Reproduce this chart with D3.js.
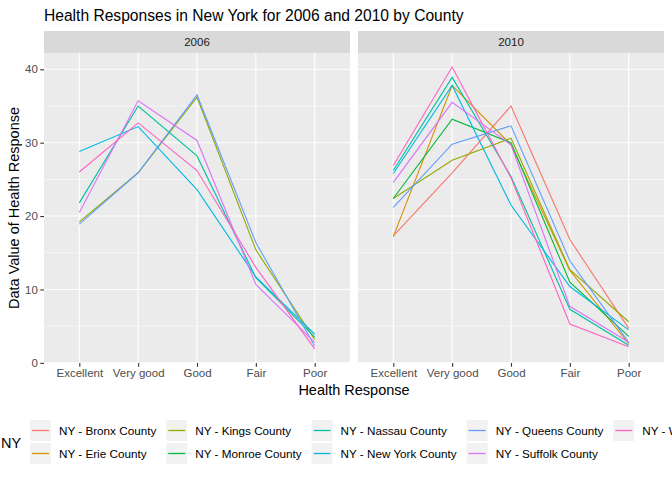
<!DOCTYPE html>
<html>
<head>
<meta charset="utf-8">
<script src="https://cdn.jsdelivr.net/npm/d3@7"></script>
<style>
  body { margin: 0; background: #fff; }
  svg { font-family: "Liberation Sans", Arial, Helvetica, sans-serif; }
</style>
</head>
<body>
<svg id="chart" width="672" height="480"></svg>
<script>
// health response categories on the x axis
var responses = ["Excellent", "Very good", "Good", "Fair", "Poor"];
var years = ["2006", "2010"];

var counties = ["NY - Bronx County", "NY - Erie County", "NY - Kings County", "NY - Monroe County",
  "NY - Nassau County", "NY - New York County", "NY - Queens County", "NY - Suffolk County",
  "NY - Westchester County"];
var colors = ["#F8766D", "#D39200", "#93AA00", "#00BA38", "#00C19F", "#00B9E3", "#619CFF", "#DB72FB", "#FF61C3"];

// 2006 - only six counties reported
var counties2006 = ["NY - Kings County", "NY - Nassau County", "NY - New York County",
  "NY - Queens County", "NY - Suffolk County", "NY - Westchester County"];
var values2006 = [
  [19.2, 25.9, 36.2, 15.4, 3.2],
  [21.8, 35.0, 28.2, 11.6, 3.5],
  [28.8, 32.2, 23.6, 11.7, 3.9],
  [18.9, 25.9, 36.5, 16.4, 2.3],
  [20.5, 35.7, 30.3, 10.7, 2.8],
  [26.0, 32.7, 26.2, 13.0, 1.9]
];

// 2010 - all nine counties
var counties2010 = counties;
var values2010 = [
  [17.3, 25.9, 35.0, 16.8, 4.7],
  [17.2, 37.8, 29.7, 12.6, 2.6],
  [22.4, 27.6, 30.6, 12.7, 5.6],
  [22.4, 33.2, 30.0, 11.0, 3.6],
  [26.2, 38.9, 25.4, 7.3, 2.4],
  [25.8, 37.8, 21.5, 10.4, 4.5],
  [21.2, 29.8, 32.3, 13.9, 2.8],
  [24.6, 35.5, 29.7, 7.7, 2.8],
  [26.9, 40.3, 25.2, 5.3, 2.2]
];

var yTicks = [0, 10, 20, 30, 40];
var yMinor = [5, 15, 25, 35];

var svg = d3.select("#chart");

var panelTop = 53, panelBottom = 363;
var stripH = 22;
var panels = [
  {year: "2006", x0: 44, x1: 350, names: counties2006, vals: values2006},
  {year: "2010", x0: 358, x1: 664, names: counties2010, vals: values2010}
];

var allVals = d3.merge(values2006.concat(values2010));
var ext = d3.extent(allVals);
var pad = (ext[1] - ext[0]) * 0.05;
var y = d3.scaleLinear().domain([ext[0] - pad, ext[1] + pad]).range([panelBottom, panelTop]);

var color = d3.scaleOrdinal().domain(counties).range(colors);

// title
svg.append("text")
  .attr("x", 44).attr("y", 21)
  .attr("font-size", "15.6px")
  .attr("fill", "#000")
  .text("Health Responses in New York for 2006 and 2010 by County");

panels.forEach(function(p, pi) {
  var x = d3.scalePoint().domain(responses).range([p.x0, p.x1]).padding(0.6);
  var g = svg.append("g");

  // strip
  g.append("rect")
    .attr("x", p.x0).attr("y", panelTop - stripH)
    .attr("width", p.x1 - p.x0).attr("height", stripH)
    .attr("fill", "#D9D9D9");
  g.append("text")
    .attr("x", (p.x0 + p.x1) / 2).attr("y", panelTop - stripH / 2 + 4)
    .attr("text-anchor", "middle")
    .attr("font-size", "11.5px")
    .attr("fill", "#1A1A1A")
    .text(p.year);

  // panel background
  g.append("rect")
    .attr("x", p.x0).attr("y", panelTop)
    .attr("width", p.x1 - p.x0).attr("height", panelBottom - panelTop)
    .attr("fill", "#EBEBEB");

  // grid
  g.selectAll(".minor")
    .data(yMinor)
    .enter()
    .append("line")
    .attr("x1", p.x0).attr("x2", p.x1)
    .attr("y1", function(d) { return y(d); })
    .attr("y2", function(d) { return y(d); })
    .attr("stroke", "#fff").attr("stroke-width", 0.55);
  g.selectAll(".major")
    .data(yTicks)
    .enter()
    .append("line")
    .attr("x1", p.x0).attr("x2", p.x1)
    .attr("y1", function(d) { return y(d); })
    .attr("y2", function(d) { return y(d); })
    .attr("stroke", "#fff").attr("stroke-width", 1.1);
  g.selectAll(".vgrid")
    .data(responses)
    .enter()
    .append("line")
    .attr("x1", function(d) { return x(d); })
    .attr("x2", function(d) { return x(d); })
    .attr("y1", panelTop).attr("y2", panelBottom)
    .attr("stroke", "#fff").attr("stroke-width", 1.1);

  // lines
  var line = d3.line()
    .x(function(d, i) { return x(responses[i]); })
    .y(function(d) { return y(d); });
  g.selectAll(".series")
    .data(p.vals)
    .enter()
    .append("path")
    .attr("d", function(d) { return line(d); })
    .attr("fill", "none")
    .attr("stroke", function(d, i) { return color(p.names[i]); })
    .attr("stroke-width", 1.1);

  // x axis
  var xAxis = g.append("g")
    .attr("transform", "translate(0," + panelBottom + ")")
    .call(d3.axisBottom(x).tickSize(3.7).tickPadding(2.5));
  xAxis.select(".domain").remove();
  xAxis.selectAll(".tick line").attr("stroke", "#333333").attr("stroke-width", 1.1);
  xAxis.selectAll(".tick text")
    .attr("fill", "#4D4D4D")
    .attr("font-size", "11.5px")
    .attr("font-family", "Liberation Sans, Arial, sans-serif");

  // y axis on first panel only
  if (pi == 0) {
    var yAxis = g.append("g")
      .attr("transform", "translate(" + p.x0 + ",0)")
      .call(d3.axisLeft(y).tickValues(yTicks).tickSize(3.7).tickPadding(2.5));
    yAxis.select(".domain").remove();
    yAxis.selectAll(".tick line").attr("stroke", "#333333").attr("stroke-width", 1.1);
    yAxis.selectAll(".tick text")
      .attr("fill", "#4D4D4D")
      .attr("font-size", "11.5px")
      .attr("font-family", "Liberation Sans, Arial, sans-serif");
  }
});

// axis titles
svg.append("text")
  .attr("x", (44 + 664) / 2).attr("y", 395)
  .attr("text-anchor", "middle")
  .attr("font-size", "14.5px")
  .text("Health Response");
svg.append("text")
  .attr("transform", "translate(19," + ((panelTop + panelBottom) / 2) + ") rotate(-90)")
  .attr("text-anchor", "middle")
  .attr("font-size", "14.5px")
  .text("Data Value of Health Response");

// legend, filled column by column in two rows
var legend = svg.append("g").style("font-size", "11.7px");
legend.append("text")
  .attr("x", 1).attr("y", 448)
  .attr("font-size", "14.5px")
  .text("NY");

var keySize = 21;
var rowY = [420, 443];
var colX = 30;
for (var c = 0; c < Math.ceil(counties.length / 2); c++) {
  var items = counties.slice(c * 2, c * 2 + 2);
  var maxW = 0;
  items.forEach(function(name, r) {
    legend.append("rect")
      .attr("x", colX).attr("y", rowY[r])
      .attr("width", keySize).attr("height", keySize)
      .attr("fill", "#F2F2F2");
    legend.append("line")
      .attr("x1", colX + 2).attr("x2", colX + keySize - 2)
      .attr("y1", rowY[r] + keySize / 2).attr("y2", rowY[r] + keySize / 2)
      .attr("stroke", color(name)).attr("stroke-width", 1.3);
    var t = legend.append("text")
      .attr("x", colX + 29).attr("y", rowY[r] + keySize / 2 + 4)
      .attr("fill", "#000")
      .text(name);
    maxW = Math.max(maxW, t.node().getComputedTextLength());
  });
  colX = colX + 29 + maxW + 10;
}
</script>
</body>
</html>
